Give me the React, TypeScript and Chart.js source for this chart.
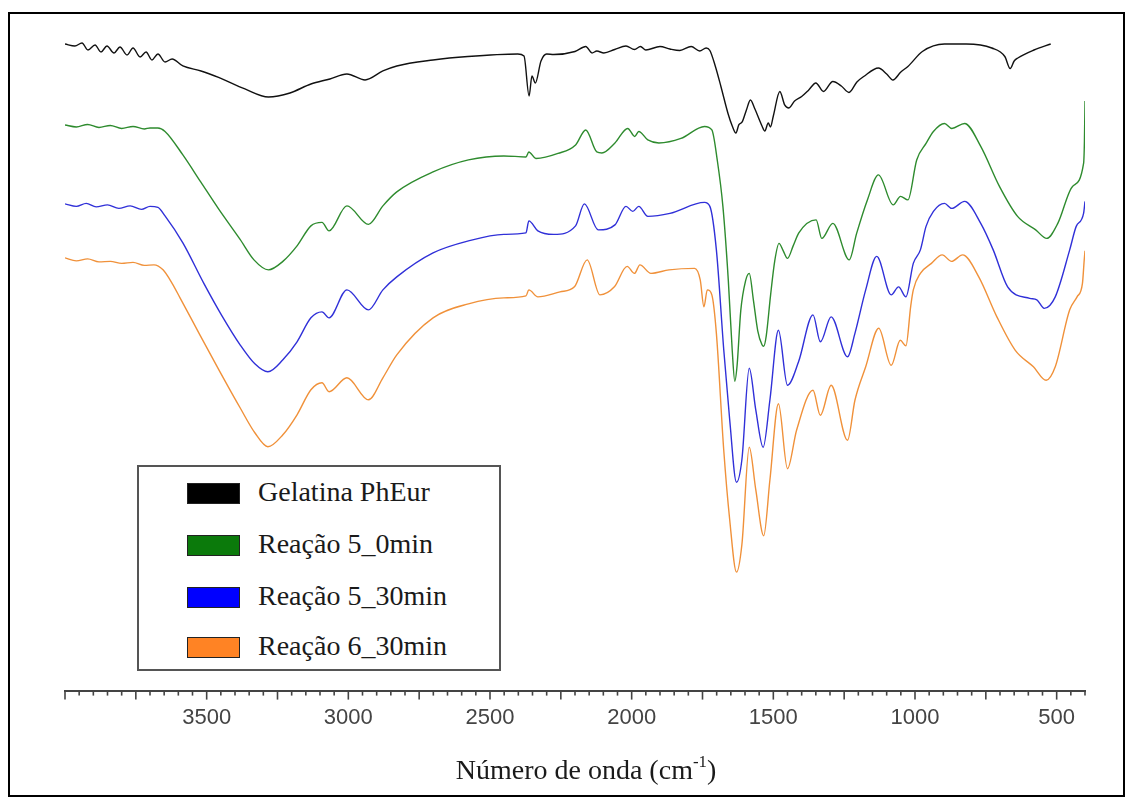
import React, { useEffect, useRef } from "react";
import { Chart, registerables } from "chart.js";

Chart.register(...registerables);

// FTIR spectra: wavenumber (cm-1) and stacked transmittance (arbitrary units, offset per sample)
const GELATINA_WN = [
  4000, 3965, 3940, 3919, 3894, 3873, 3852, 3827, 3806, 3781, 3760, 3735, 3714, 3693, 3672, 3647, 3622, 3584,
  3520, 3458, 3365, 3282, 3206, 3132, 3065, 3005, 2941, 2878, 2829, 2701, 2578, 2402, 2380, 2362, 2352, 2340,
  2320, 2300, 2275, 2200, 2162, 2140, 2123, 2098, 2060, 2020, 1990, 1969, 1950, 1900, 1865, 1830, 1790, 1760,
  1737, 1724, 1705, 1685, 1660, 1645, 1632, 1622, 1610, 1595, 1581, 1565, 1549, 1540, 1530, 1518, 1510, 1500,
  1477, 1460, 1445, 1425, 1400, 1375, 1350, 1323, 1290, 1260, 1233, 1205, 1181, 1129, 1100, 1078, 1050, 1025,
  974, 896, 819, 729, 683, 664, 650, 637, 580, 521,
];
const GELATINA_T = [
  129.4, 129.0, 129.6, 128.2, 129.2, 127.8, 129.0, 127.6, 128.8, 127.2, 128.6, 126.8, 127.8, 126.2, 127.4, 125.8, 126.4, 125.0,
  124.0, 122.7, 120.4, 118.8, 119.6, 121.4, 122.4, 123.4, 122.2, 124.0, 125.0, 126.2, 126.9, 127.4, 127.0, 119.0, 123.0, 121.6,
  126.0, 127.4, 127.3, 127.9, 128.9, 127.6, 128.0, 127.6, 128.3, 129.0, 128.3, 128.9, 128.2, 128.9, 128.4, 128.1, 128.9, 128.0,
  128.6, 128.1, 125.0, 120.9, 115.5, 113.0, 111.6, 113.2, 113.8, 116.2, 118.2, 116.4, 114.2, 113.0, 112.0, 113.6, 112.8, 115.0,
  119.9, 117.2, 116.6, 118.0, 118.9, 120.2, 121.6, 119.9, 121.9, 121.0, 119.7, 121.8, 122.9, 124.6, 123.4, 122.2, 123.8, 124.9,
  127.9, 129.4, 129.4, 128.6, 126.9, 124.5, 126.0, 126.6, 128.2, 129.4,
];

const R5_0_WN = [
  4000, 3960, 3920, 3880, 3840, 3800, 3760, 3720, 3700, 3672, 3647, 3584, 3521, 3458, 3382, 3333, 3282, 3231,
  3181, 3132, 3093, 3068, 3005, 2929, 2878, 2829, 2701, 2576, 2451, 2373, 2363, 2338, 2260, 2198, 2162, 2123,
  2105, 2059, 2014, 1989, 1975, 1943, 1904, 1826, 1743, 1717, 1698, 1678, 1659, 1645, 1636, 1628, 1615, 1598,
  1585, 1570, 1555, 1540, 1534, 1525, 1510, 1495, 1480, 1465, 1450, 1430, 1410, 1349, 1329, 1290, 1232, 1206,
  1168, 1129, 1077, 1051, 1025, 994, 961, 935, 896, 870, 825, 768, 702, 638, 574, 535, 496, 444, 405, 402, 400,
];
const R5_0_T = [
  113.2, 112.8, 113.3, 112.7, 113.1, 112.5, 112.9, 112.4, 112.6, 112.6, 111.9, 107.2, 101.8, 96.4, 90.3, 86.2, 84.2, 85.9,
  89.0, 93.0, 93.7, 92.0, 97.0, 93.3, 97.0, 99.8, 103.8, 106.2, 107.0, 106.8, 107.8, 106.5, 107.5, 109.2, 112.2, 107.8,
  107.6, 109.6, 112.5, 110.9, 111.9, 110.2, 109.6, 110.5, 112.9, 112.2, 106.2, 96.9, 82.2, 68.0, 61.9, 65.0, 76.0, 82.0,
  83.5, 78.0, 72.0, 69.2, 68.9, 71.0, 79.0, 86.0, 89.5, 88.0, 86.5, 89.0, 91.6, 94.2, 90.5, 93.5, 86.2, 91.5,
  98.2, 103.2, 97.2, 98.9, 98.2, 106.2, 109.5, 111.9, 113.5, 112.5, 113.5, 108.9, 100.9, 94.9, 92.2, 90.5, 93.5, 100.9, 105.5, 110.0, 118.0,
];

const R5_30_WN = [
  4000, 3960, 3925, 3890, 3850, 3810, 3770, 3730, 3700, 3672, 3647, 3584, 3510, 3446, 3382, 3330, 3284, 3231,
  3181, 3132, 3093, 3068, 3005, 2929, 2878, 2829, 2701, 2576, 2451, 2373, 2363, 2331, 2275, 2198, 2167, 2118,
  2059, 2020, 1996, 1975, 1943, 1865, 1743, 1724, 1701, 1675, 1654, 1630, 1611, 1585, 1562, 1536, 1512, 1482,
  1450, 1411, 1360, 1334, 1296, 1238, 1212, 1174, 1135, 1084, 1058, 1032, 1006, 981, 961, 935, 896, 870,
  825, 768, 724, 673, 595, 570, 544, 505, 454, 431, 405, 400,
];
const R5_30_T = [
  97.4, 96.9, 97.5, 96.8, 97.2, 96.5, 97.0, 96.3, 96.9, 96.7, 95.0, 89.6, 81.5, 75.0, 69.2, 65.4, 63.8, 66.2,
  69.8, 74.6, 75.8, 74.6, 80.2, 76.2, 80.2, 82.8, 87.6, 90.0, 91.3, 91.6, 94.0, 92.0, 91.3, 93.0, 97.4, 92.2,
  93.2, 96.9, 95.9, 96.9, 94.9, 95.5, 97.7, 96.9, 88.2, 68.2, 54.2, 41.7, 46.2, 64.5, 56.2, 48.7, 58.2, 72.1,
  61.1, 65.8, 75.2, 69.8, 74.8, 66.8, 71.5, 80.2, 86.9, 79.2, 80.8, 78.8, 85.5, 88.2, 92.9, 95.9, 97.5, 96.5,
  97.9, 93.5, 88.2, 80.8, 78.5, 78.2, 76.5, 78.8, 88.2, 92.9, 95.5, 97.9,
];

const R6_30_WN = [
  4000, 3960, 3920, 3880, 3840, 3800, 3760, 3720, 3686, 3654, 3622, 3594, 3524, 3453, 3382, 3330, 3284, 3231,
  3181, 3132, 3093, 3068, 3005, 2929, 2878, 2829, 2701, 2576, 2451, 2373, 2363, 2331, 2253, 2202, 2157, 2112,
  2061, 2016, 1990, 1971, 1932, 1868, 1778, 1758, 1745, 1733, 1717, 1701, 1675, 1654, 1630, 1611, 1585, 1562,
  1534, 1512, 1482, 1450, 1418, 1360, 1334, 1296, 1238, 1212, 1174, 1128, 1084, 1052, 1032, 1015, 1006, 981,
  942, 904, 871, 832, 775, 711, 646, 582, 537, 505, 454, 428, 409, 403, 400,
];
const R6_30_T = [
  86.6, 86.0, 86.4, 85.8, 85.9, 85.5, 85.7, 85.1, 85.2, 84.2, 81.5, 78.6, 71.2, 63.8, 56.6, 51.6, 48.8, 51.2,
  55.2, 60.2, 61.6, 59.8, 62.6, 58.2, 62.6, 67.2, 74.6, 77.4, 78.6, 79.0, 80.2, 78.8, 79.8, 80.8, 86.2, 79.2,
  80.8, 84.9, 83.5, 85.2, 83.5, 84.2, 84.5, 82.2, 76.8, 80.2, 79.2, 71.5, 48.1, 34.2, 23.7, 29.2, 48.7, 40.2,
  31.0, 42.2, 57.4, 44.4, 52.1, 60.1, 55.1, 61.1, 50.1, 58.1, 64.8, 72.5, 65.1, 70.1, 69.0, 77.0, 80.2, 83.5,
  85.5, 87.2, 85.9, 87.2, 82.8, 74.8, 68.1, 64.8, 62.1, 64.8, 76.2, 78.8, 81.5, 86.0, 88.0,
];

const SERIES_LABELS = ["Gelatina PhEur", "Reação 5_0min", "Reação 5_30min", "Reação 6_30min"];
const SERIES_WN = [GELATINA_WN, R5_0_WN, R5_30_WN, R6_30_WN];
const SERIES_T = [GELATINA_T, R5_0_T, R5_30_T, R6_30_T];
const LINE_COLORS = ["#111111", "#2e8b2e", "#3030d8", "#f0913a"];
const SWATCH_COLORS = ["#000000", "#0b7a0b", "#0000ff", "#ff8324"];

const X_TICK_LABELS = [3500, 3000, 2500, 2000, 1500, 1000, 500];
const X_MIN = 400;
const X_MAX = 4000;
const MINOR_STEP = 50;
const MAJOR_STEP = 250;
const Y_MIN = 0;
const Y_MAX = 131;

const AXIS_COLOR = "#444444";
const SERIF = '"Liberation Serif", "Times New Roman", serif';

// Minor/major tick marks hanging below the wavenumber axis
const tickMarks = {
  id: "tickMarks",
  afterDraw(chart: any) {
    const xs = chart.scales.x;
    const ctx = chart.ctx;
    const y0 = chart.chartArea.bottom;
    ctx.save();
    ctx.strokeStyle = AXIS_COLOR;
    ctx.lineWidth = 1.6;
    for (let v = X_MIN; v <= X_MAX; v += MINOR_STEP) {
      const px = xs.getPixelForValue(v);
      const len = v % MAJOR_STEP === 0 ? 9 : 5;
      ctx.beginPath();
      ctx.moveTo(px, y0);
      ctx.lineTo(px, y0 + len);
      ctx.stroke();
    }
    ctx.restore();
  },
};

export default function App() {
  const canvasRef = useRef<HTMLCanvasElement>(null);

  useEffect(() => {
    const canvas = canvasRef.current;
    if (!canvas) return;
    const datasets = SERIES_LABELS.map((label, i) => ({
      label,
      data: SERIES_WN[i].map((x, j) => ({ x, y: SERIES_T[i][j] })),
      borderColor: LINE_COLORS[i],
      backgroundColor: LINE_COLORS[i],
      borderWidth: 1.4,
      pointRadius: 0,
      fill: false,
      cubicInterpolationMode: "monotone",
    }));
    const chart = new Chart(canvas, {
      type: "line",
      data: { datasets },
      plugins: [tickMarks],
      options: {
        animation: false,
        responsive: false,
        devicePixelRatio: 1,
        events: [],
        layout: { padding: { left: 55, right: 38, top: 22, bottom: 50 } },
        plugins: {
          legend: { display: false },
          tooltip: { enabled: false },
        },
        scales: {
          x: {
            type: "linear",
            reverse: true,
            min: X_MIN,
            max: X_MAX,
            afterBuildTicks: (axis: any) => {
              axis.ticks = X_TICK_LABELS.map((value) => ({ value }));
            },
            ticks: {
              autoSkip: false,
              maxRotation: 0,
              padding: 14,
              color: AXIS_COLOR,
              font: { family: '"Liberation Sans", Arial, sans-serif', size: 22 },
              callback: (value: any) => String(value),
            },
            grid: { display: false, drawTicks: false },
            border: { display: true, color: AXIS_COLOR, width: 2 },
          },
          y: {
            type: "linear",
            display: false,
            min: Y_MIN,
            max: Y_MAX,
          },
        },
      },
    } as any);
    return () => chart.destroy();
  }, []);

  return (
    <div style={{ paddingTop: 4 }}>
      <div
        style={{
          position: "relative",
          width: 1117,
          height: 785,
          border: "2px solid #000",
          boxSizing: "border-box",
          background: "#fff",
        }}
      >
        <canvas
          ref={canvasRef}
          width={1113}
          height={781}
          style={{ position: "absolute", left: 0, top: 0, display: "block" }}
        />
        <div
          style={{
            position: "absolute",
            left: 127,
            top: 451,
            width: 364,
            height: 206,
            border: "2px solid #555",
            boxSizing: "border-box",
            background: "#fff",
          }}
        >
          {SERIES_LABELS.map((label, i) => (
            <div
              key={label}
              style={{
                position: "absolute",
                left: 48,
                top: [26, 78, 130, 180][i] - 15,
                height: 28,
                display: "flex",
                alignItems: "center",
                whiteSpace: "nowrap",
              }}
            >
              <div
                style={{
                  width: 53,
                  height: 21,
                  background: SWATCH_COLORS[i],
                  border: "1px solid #222",
                  boxSizing: "border-box",
                  marginRight: 18,
                  marginTop: 2,
                }}
              />
              <span style={{ fontFamily: SERIF, fontSize: 28, lineHeight: "28px", color: "#1a1a1a" }}>{label}</span>
            </div>
          ))}
        </div>
        <div
          style={{
            position: "absolute",
            left: 276,
            top: 740,
            width: 600,
            textAlign: "center",
            fontFamily: SERIF,
            fontSize: 28,
            lineHeight: "32px",
            color: "#1a1a1a",
            whiteSpace: "nowrap",
          }}
        >
          Número de onda (cm
          <sup style={{ fontSize: "0.6em", lineHeight: 0, position: "relative", top: "-0.1em" }}>-1</sup>)
        </div>
      </div>
    </div>
  );
}
